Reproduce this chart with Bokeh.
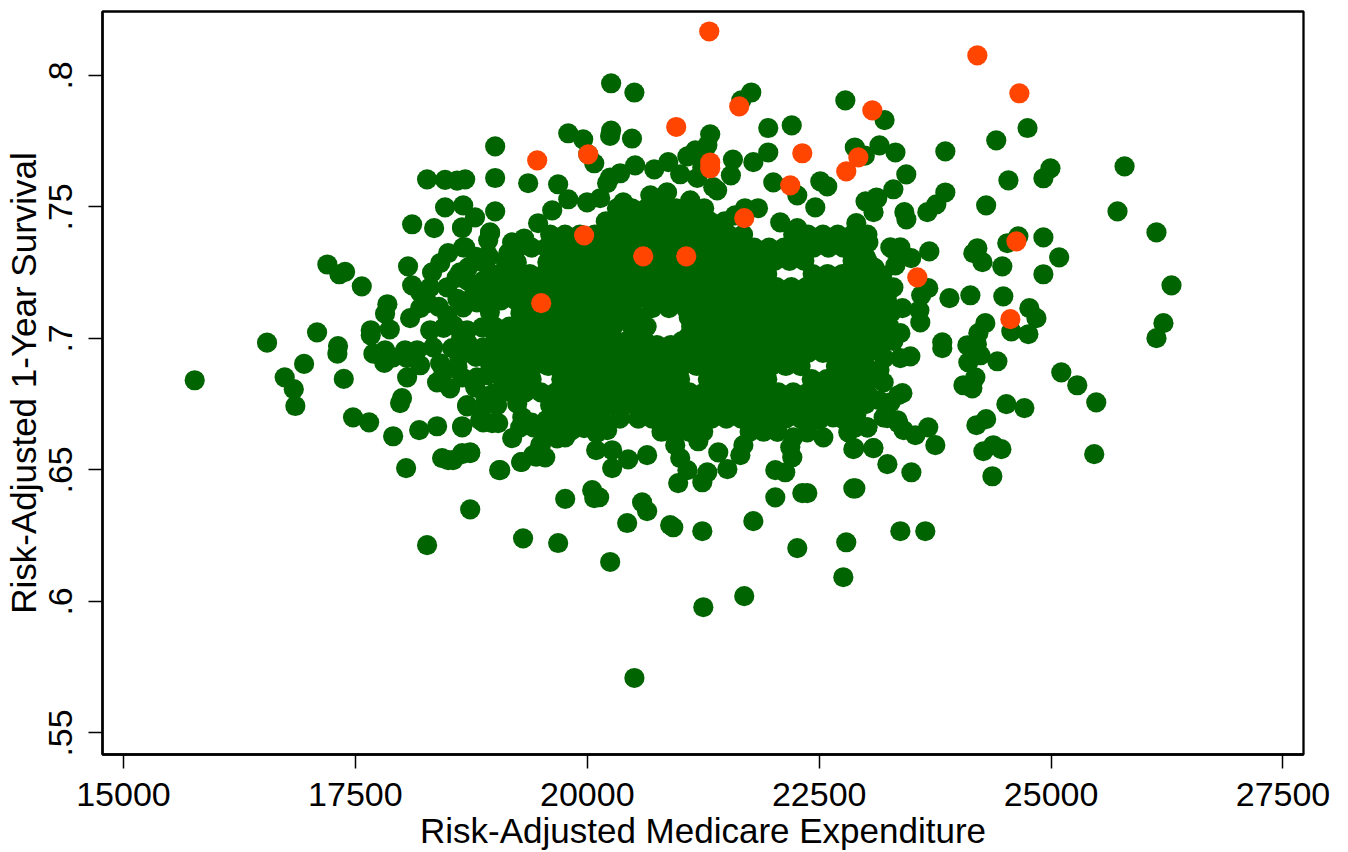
from bokeh.plotting import figure
from bokeh.models import Range1d, FixedTicker
from bokeh.embed import file_html
from bokeh.resources import INLINE

x_ticks = [15000, 17500, 20000, 22500, 25000, 27500]
y_ticks = [0.55, 0.6, 0.65, 0.7, 0.75, 0.8]
y_tick_labels = {0.55: ".55", 0.6: ".6", 0.65: ".65", 0.7: ".7", 0.75: ".75", 0.8: ".8"}
x_label = "Risk-Adjusted Medicare Expenditure"
y_label = "Risk-Adjusted 1-Year Survival"

highlight = [(21315,.8167),(24205,.8076),(24658,.7932),(21638,.7882),(23073,.7867),(20959,.7804),(19460,.7677),
 (20010,.7700),(21325,.7669),(21325,.7647),(22318,.7704),(22922,.7688),(22792,.7635),(22188,.7582),(21692,.7457),
 (19966,.7392),(24626,.7369),(20603,.7312),(21067,.7312),(23558,.7232),(19503,.7134),(24561,.7073)]

top_edge = [(20257,.797),(20508,.7935),(21768,.7935),(21660,.7905),(22782,.7905),(23205,.783),(22204,.781),(24746,.780),
 (20257,.779),(20246,.777),(20482,.776),(19795,.778),(19956,.7757),(19007,.773),(21325,.7776),(20075,.7666),(20010,.7700),
 (19007,.761),(18684,.7605),(18597,.760),(18273,.7605),(18467,.7603),(19363,.759),(19686,.7586),(20516,.7658),(20355,.7628),
 (20247,.7612),(20214,.759),(20722,.7643),(20873,.767),(21002,.7624),(21079,.7692),(21165,.7715),(21294,.7734),(21240,.765),
 (21186,.761),(21358,.7575),(21570,.768),(21548,.762),(21790,.767),(21951,.7707),(21951,.780),(22884,.7726),(22992,.7695),
 (23150,.7734),(23322,.7707),(22005,.7593),(22512,.7597),(22587,.7578),(23000,.7521),(23118,.7536),(23086,.748),(23300,.7567),
 (22900,.7438),(23100,.7267),(23290,.734),(22976,.736),(22694,.7384),(22458,.7498),(22264,.7544),(22080,.7441),(22264,.7419),
 (21840,.7495),(21700,.7495),(21592,.7468),(21400,.7563),(21110,.7525),(20860,.7555),(20680,.7544),(20388,.7517),(20139,.7533),
 (19998,.7517),(19795,.7529),(19622,.7487),(19470,.7438),(19190,.7365),(19320,.7380),(18952,.74),(18662,.7506),(19007,.7483),
 (18790,.746),(18650,.7422),(18662,.7346),(18932,.7316),(18952,.7248),(19148,.7324)]

right_side = [(23860,.7711),(24409,.7753),(23439,.7624),(23860,.7555),(23763,.751),(23666,.748),(24540,.7601),(24993,.7647),
 (24917,.7609),(25792,.7654),(25716,.7483),(26136,.7403),(24300,.7506),(23418,.748),(23440,.7453),(23126,.7533),(24917,.7384),
 (24647,.7388),(24528,.7362),(25087,.7308),(24917,.7244),(24474,.7274),(24205,.7343),(24162,.7324),(24260,.729),(26298,.7202),
 (26211,.7058),(26136,.7001),(23687,.7331),(23492,.7305),(23375,.7346),(23267,.7346),(23322,.7278),(23084,.727),(23180,.724),
 (23300,.7194),(23676,.7191),(23600,.7164),(23580,.7107),(23590,.7061),(23904,.7153),(24130,.7164),(24485,.716),(24766,.7115),
 (24842,.7077),(24291,.7058),(24216,.702),(24097,.6974),(24200,.6978),(24238,.6936),(24108,.6909),(24421,.6913),(24571,.7027),
 (24755,.7016),(23827,.6985),(23827,.6963),(23483,.6932),(23375,.6925),(23200,.6925),(24184,.6852),(24055,.6822),(24151,.681),
 (25110,.6871),(25282,.6822),(25487,.6757),(25465,.656),(24518,.675),(24712,.6735),(24300,.6693),(24195,.667),(24377,.6594),
 (24270,.6571),(24464,.6579),(24367,.6476),(23752,.6594),(23676,.6662),(23537,.6632),(23410,.6651),(23344,.6689),(23195,.67),
 (23020,.6662),(22890,.6662),(23397,.6792),(23195,.6833),(23141,.6765),(23270,.6757),(22836,.6738),(23084,.6583),(22879,.6583),
 (23235,.6522),(23494,.6491),(22890,.643),(23030,.7365),(22900,.7365),(23397,.7115),(23375,.702),(23210,.7031),
 (23150,.7150),(23280,.7100),(23130,.7040),(23250,.7050),(23300,.6990),(23150,.6960),(23100,.7230),(23000,.7310),(22890,.7310),
 (23100,.6850),(23000,.6840),(23020,.6790),(23150,.6880),(22950,.6760),(22750,.6750),(22650,.6700),(22770,.6690),(22900,.6710),
 (23000,.6750),(22500,.6690)]

lower_band = [(18738,.635),(19308,.624),(19686,.6222),(20247,.615),(19762,.639),(20053,.6423),(20075,.6393),(20128,.6396),
 (20591,.6377),(20645,.6343),(20430,.6298),(20894,.629),(20927,.6282),(21240,.6267),(21790,.6305),(22027,.6396),(22318,.6412),
 (22372,.6412),(22868,.643),(22264,.6203),(22792,.6225),(22760,.6092),(21692,.602),(21251,.5978),(23375,.6267),(23644,.6267),
 (20508,.5709),(18273,.6214),(20980,.645),(21240,.6453),(21294,.6491),(21080,.6499),(21002,.6545),(20948,.6594),(21510,.6503),
 (21412,.6567),(21650,.6556),(21683,.6594),(21197,.6609),(20645,.6556),(20441,.654),(20268,.6507),(20268,.6575),(20096,.6575),
 (20214,.6651),(19966,.6659),(19675,.662),(19762,.6624),(19492,.6594),(19547,.6548),(19417,.6556),(19288,.653),(19061,.6499),
 (19190,.6621),(18738,.6564),(18651,.656),(18554,.6537),(18651,.6662),(18845,.6689),(18975,.6678),(18705,.6746),(22134,.6491),
 (22027,.6499),(22210,.6548),(22188,.6586),(22372,.6643),(22221,.6624),(22545,.6624),(22868,.6579),(23084,.6583),(22814,.6643),
 (23019,.6662),(22814,.6738),(23354,.6784),(23354,.6678),(23235,.6697),
 (19560,.6690),(19400,.6680),(19560,.6660),(20000,.6700),(20150,.6690),(20100,.6640),(19830,.6650),(19660,.6660),(19300,.6700)]

left_side = [(15768,.6841),(16548,.6984),(17087,.7023),(16738,.6852),(16947,.6903),(16836,.6807),(16853,.6743),(17313,.6971),
 (17306,.6942),(17375,.6846),(17198,.7281),(17389,.7253),(17328,.7244),(17569,.7198),(17845,.7130),(17820,.7094),(17871,.7034),
 (17666,.7031),(17666,.7012),(17694,.6942),(17820,.6955),(17812,.6907),(18112,.7434),(18349,.7419),(18467,.7498),(18651,.7419),
 (18684,.7346),(18952,.7403),(18932,.7373),(18932,.7308),(18500,.7324),(18716,.727),(18068,.7274),(18414,.7286),(18327,.7251),
 (18629,.7251),(18705,.7221),(18112,.7202),(18198,.7175),(18489,.7194),(18306,.7194),(18284,.7134),(18090,.7077),(18198,.7115),
 (18489,.7088),(18306,.7031),(18662,.7118),(18812,.7137),(18867,.7042),(18705,.7031),(18036,.6955),(18166,.6955),(18338,.6966),
 (18543,.6963),(18705,.6985),(18878,.6966),(17907,.6928),(18058,.6925),(18198,.6898),(18414,.6905),(18058,.6852),(18381,.6833),
 (18521,.681),(18651,.6852),(18791,.6814),(18810,.6852),(19093,.6822),(19330,.6795),(18003,.6773),(17982,.6754),(18705,.6742),
 (18867,.6735),(19029,.6746),(19245,.6752),(18878,.6681),(19040,.6678),(18651,.6666),(19277,.6662),(19420,.6662),(17475,.67),
 (17648,.6681),(17907,.6628),(18188,.6651),(18381,.6666),(18435,.6545),(18500,.6537),(18651,.6564),(18738,.6567),(18047,.6507),
 (19050,.6499),(19288,.653),(19450,.655),(19500,.6594),
 (18950,.7100),(18780,.7170),(18600,.7150),(18560,.7050),(18640,.7000),(18950,.6905),(18800,.6930),(18620,.6930),(18450,.7040),
 (18400,.7120),(18590,.7230),(18870,.7290),(18800,.7310),(18880,.7220),(18850,.7190),(18600,.6890),(18450,.6870),(18920,.6860),
 (18990,.6790),(18900,.6780),(19240,.7290),(19570,.7290)]

core_upper = [(20320,.7495),(20480,.7495),(20640,.7495),(20800,.7495),(20960,.7495),(21120,.7495),(21260,.7495),
 (20200,.7445),(20360,.7445),(20520,.7445),(20680,.7445),(20840,.7445),(21000,.7445),(21160,.7445),(21320,.7445),(21480,.7445),
 (19600,.7395),(19760,.7395),(19920,.7395),(20080,.7395),(20240,.7395),(20400,.7395),(20560,.7395),(20720,.7395),(20880,.7395),
 (21040,.7395),(21200,.7395),(21360,.7395),(21520,.7395),(21680,.7395),(22220,.7395),(22380,.7395),(22540,.7395),(22700,.7395),
 (22860,.7395),(23020,.7395),
 (19250,.7345),(19400,.7345),(19560,.7345),(19720,.7345),(19880,.7345),(20040,.7345),(20200,.7345),(20360,.7345),(20520,.7345),
 (20680,.7345),(20840,.7345),(21000,.7345),(21160,.7345),(21320,.7345),(21480,.7345),(21640,.7345),(21800,.7345),(21960,.7345),
 (22120,.7345),(22280,.7345),(22440,.7345),(22600,.7345),(22760,.7345),
 (19120,.7295),(19620,.7295),(19780,.7295),(19940,.7295),(20100,.7295),(20260,.7295),(20420,.7295),(20580,.7295),(20740,.7295),
 (20900,.7295),(21060,.7295),(21220,.7295),(21380,.7295),(21540,.7295),(21700,.7295),(21860,.7295),(22020,.7295),(22180,.7295),
 (22340,.7295),(22860,.7295),(23020,.7295),
 (19060,.7245),(19220,.7245),(19380,.7245),(19540,.7245),(19700,.7245),(19860,.7245),(20020,.7245),(20180,.7245),(20340,.7245),
 (20500,.7245),(20660,.7245),(20820,.7245),(20980,.7245),(21140,.7245),(21300,.7245),(21460,.7245),(21620,.7245),(21780,.7245),
 (21940,.7245),(22430,.7245),(22590,.7245),(22750,.7245),(22910,.7245)]

core_middle = [(19000,.7195),(19160,.7195),(19320,.7195),(19480,.7195),(19640,.7195),(19800,.7195),(19960,.7195),(20120,.7195),
 (20280,.7195),(20440,.7195),(20600,.7195),(20760,.7195),(20920,.7195),(21080,.7195),(21240,.7195),(21400,.7195),(21560,.7195),
 (21720,.7195),(21880,.7195),(22040,.7195),(22200,.7195),(22360,.7195),(22520,.7195),(22680,.7195),(22840,.7195),(23000,.7195),
 (23160,.7195),
 (18900,.7145),(19070,.7145),(19230,.7145),(19390,.7145),(19550,.7145),(19710,.7145),(19870,.7145),(20030,.7145),(20190,.7145),
 (20350,.7145),(20510,.7145),(20670,.7145),(20830,.7145),(20990,.7145),(21150,.7145),(21310,.7145),(21470,.7145),(21630,.7145),
 (21790,.7145),(21950,.7145),(22110,.7145),(22270,.7145),(22430,.7145),(22590,.7145),(22750,.7145),(22910,.7145),(23070,.7145),
 (23230,.7145),(20700,.7115),(20880,.7115),(21060,.7115),
 (19280,.7095),(19440,.7095),(19600,.7095),(19760,.7095),(19920,.7095),(20080,.7095),(20240,.7095),(20400,.7095),(20500,.7095),
 (21200,.7095),(21360,.7095),(21520,.7095),(21680,.7095),(21840,.7095),(22000,.7095),(22160,.7095),(22320,.7095),(22480,.7095),
 (22640,.7095),(22800,.7095),(22960,.7095),(23120,.7095),(20572,.7075),(20572,.7015),(21094,.7080),(21094,.7010),
 (19000,.7045),(19160,.7045),(19320,.7045),(19480,.7045),(19640,.7045),(19800,.7045),(19960,.7045),(20120,.7045),(20280,.7045),
 (20480,.7045),(20640,.7045),(21120,.7045),(21280,.7045),(21440,.7045),(21600,.7045),(21760,.7045),(21920,.7045),(22080,.7045),
 (22240,.7045),(22400,.7045),(22560,.7045),(22720,.7045),(22880,.7045),(23040,.7045),
 (19010,.6995),(19170,.6995),(19330,.6995),(19490,.6995),(19650,.6995),(19810,.6995),(19970,.6995),(20130,.6995),(20290,.6995),
 (20450,.6995),(20610,.6995),(20750,.6975),(20900,.6975),(21020,.6990),(21150,.6995),(21310,.6995),(21470,.6995),(21630,.6995),(21790,.6995),
 (21950,.6995),(22110,.6995),(22270,.6995),(22430,.6995),(22590,.6995),(22750,.6995),(22910,.6995),(23070,.6995),(23200,.6995)]

core_lower = [(19020,.6945),(19180,.6945),(19340,.6945),(19500,.6945),(19660,.6945),(19820,.6945),(19980,.6945),(20140,.6945),
 (20300,.6945),(20460,.6945),(20620,.6945),(20780,.6945),(20940,.6945),(21100,.6945),(21260,.6945),(21420,.6945),(21580,.6945),
 (21740,.6945),(21900,.6945),(22060,.6945),(22220,.6945),(22380,.6945),(22540,.6945),(22700,.6945),(22860,.6945),(23020,.6945),
 (19100,.6895),(19260,.6895),(19420,.6895),(19580,.6895),(19740,.6895),(19900,.6895),(20060,.6895),(20220,.6895),(20380,.6895),
 (20540,.6895),(20700,.6895),(20860,.6895),(21020,.6895),(21180,.6895),(21340,.6895),(21500,.6895),(21660,.6895),(21820,.6895),
 (21980,.6895),(22140,.6895),(22300,.6895),(22680,.6895),(22840,.6895),(23000,.6895),
 (19090,.6845),(19250,.6845),(19400,.6845),(19720,.6845),(19880,.6845),(20040,.6845),(20200,.6845),(20360,.6845),(20520,.6845),
 (20680,.6845),(20840,.6845),(21000,.6845),(21300,.6845),(21460,.6845),(21620,.6845),(21780,.6845),(21940,.6845),(22420,.6845),
 (22580,.6845),(22740,.6845),(22900,.6845),
 (19180,.6795),(19500,.6795),(19660,.6795),(19820,.6795),(19980,.6795),(20140,.6795),(20300,.6795),(20460,.6795),(20620,.6795),
 (20780,.6795),(20940,.6795),(21100,.6795),(21260,.6795),(21420,.6795),(21580,.6795),(21740,.6795),(21900,.6795),(22060,.6795),
 (22220,.6795),(22380,.6795),(22540,.6795),(22700,.6795),(22860,.6795),
 (19600,.6745),(19760,.6745),(19920,.6745),(20080,.6745),(20240,.6745),(20400,.6745),(20560,.6745),(20720,.6745),(20880,.6745),
 (21040,.6745),(21200,.6745),(21360,.6745),(21520,.6745),(21680,.6745),(21840,.6745),(22000,.6745),(22160,.6745),(22320,.6745),
 (22480,.6745),(22640,.6745),
 (19700,.6695),(19860,.6695),(20350,.6695),(20550,.6695),(20700,.6695),(20860,.6695),(21020,.6695),(21180,.6695),(21340,.6695),
 (21500,.6695),(21660,.6695),(21820,.6695),(21980,.6695),(22140,.6695),(22300,.6695),(22460,.6695),
 (20800,.6645),(20950,.6645),(21100,.6645),(21250,.6645),(21750,.6645),(21900,.6645),(22050,.6645)]

green_groups = [top_edge, right_side, lower_band, left_side, core_upper, core_middle, core_lower]
green_x = [pt[0] for g in green_groups for pt in g]
green_y = [pt[1] for g in green_groups for pt in g]
orange_x = [pt[0] for pt in highlight]
orange_y = [pt[1] for pt in highlight]

p = figure(width=1332, height=850, output_backend="svg", toolbar_location=None,
           x_range=Range1d(14774, 27721), y_range=Range1d(0.5418, 0.8243),
           min_border_left=102, min_border_right=29, min_border_top=11, min_border_bottom=0,
           frame_width=1201, frame_height=743)
p.background_fill_color = "white"
p.border_fill_color = "white"
p.grid.visible = False
p.outline_line_color = "black"
p.outline_line_width = 2.3

p.scatter(green_x, green_y, size=20.2, color="#006400", line_color=None)
p.scatter(orange_x, orange_y, size=20.2, color="#FF4500", line_color=None)

for ax in (p.xaxis[0], p.yaxis[0]):
    ax.axis_line_color = "black"
    ax.axis_line_width = 2.3
    ax.major_tick_line_color = "black"
    ax.major_tick_line_width = 1.5
    ax.major_tick_out = 14
    ax.major_tick_in = 0
    ax.minor_tick_out = 0
    ax.minor_tick_in = 0
    ax.major_label_text_font = "Liberation Sans"
    ax.major_label_text_font_size = "34px"
    ax.major_label_text_color = "black"
    ax.axis_label_text_font = "Liberation Sans"
    ax.axis_label_text_font_size = "35px"
    ax.axis_label_text_font_style = "normal"
    ax.axis_label_text_color = "black"

p.xaxis[0].ticker = FixedTicker(ticks=x_ticks)
p.yaxis[0].ticker = FixedTicker(ticks=y_ticks)
p.yaxis[0].major_label_overrides = y_tick_labels
p.yaxis[0].major_label_orientation = "parallel"
p.xaxis[0].axis_label = x_label
p.yaxis[0].axis_label = y_label
p.xaxis[0].major_label_standoff = 14
p.yaxis[0].major_label_standoff = 16
p.xaxis[0].axis_label_standoff = 2
p.yaxis[0].axis_label_standoff = 4

open("out.html", "w").write(file_html(p, INLINE))
